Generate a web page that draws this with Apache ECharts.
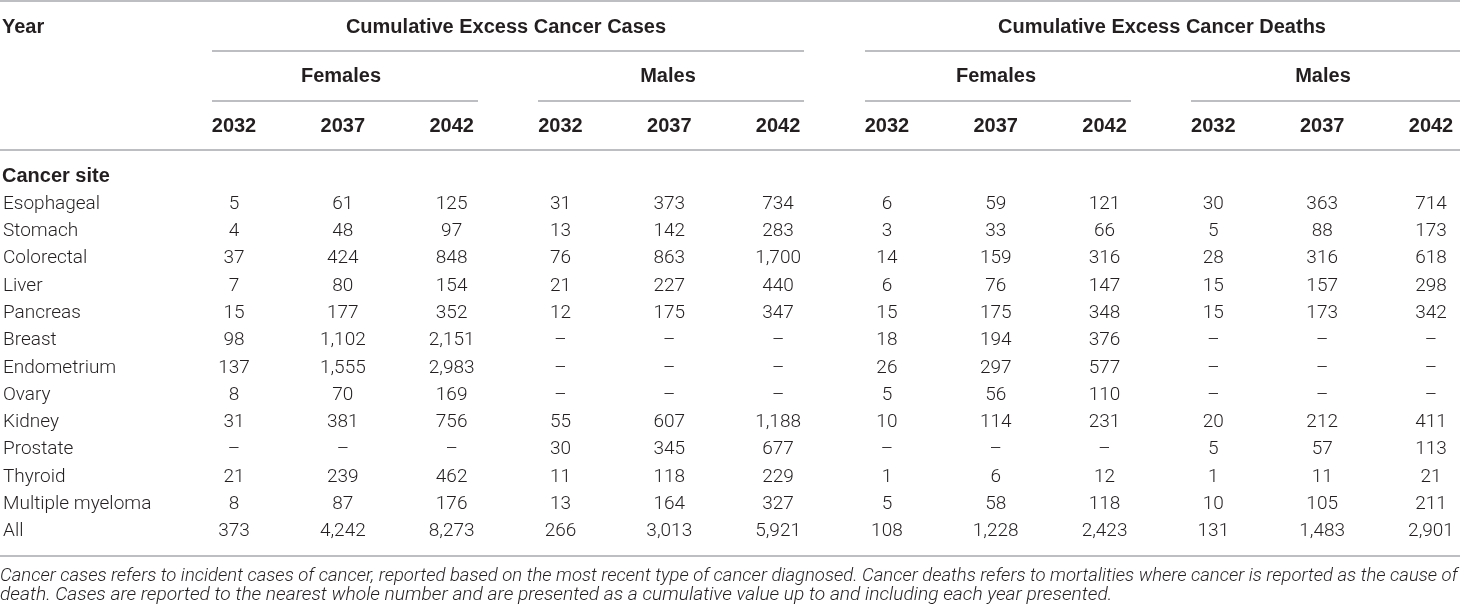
<!DOCTYPE html>
<html>
<head>
<meta charset="utf-8">
<script src="https://cdn.jsdelivr.net/npm/echarts@6/dist/echarts.min.js"></script>
<style>
  html, body { margin: 0; padding: 0; background: #fff; }
  #main { width: 1460px; height: 612px; }
</style>
</head>
<body>
<div id="main"></div>
<script>
// table values, rows follow `sites`, inner arrays are 2032 / 2037 / 2042
var sites = ['Esophageal', 'Stomach', 'Colorectal', 'Liver', 'Pancreas', 'Breast', 'Endometrium',
    'Ovary', 'Kidney', 'Prostate', 'Thyroid', 'Multiple myeloma', 'All'];
var years = ['2032', '2037', '2042'];

var casesFemales = [[5, 61, 125], [4, 48, 97], [37, 424, 848], [7, 80, 154], [15, 177, 352],
    [98, 1102, 2151], [137, 1555, 2983], [8, 70, 169], [31, 381, 756], [null, null, null],
    [21, 239, 462], [8, 87, 176], [373, 4242, 8273]];
var casesMales = [[31, 373, 734], [13, 142, 283], [76, 863, 1700], [21, 227, 440], [12, 175, 347],
    [null, null, null], [null, null, null], [null, null, null], [55, 607, 1188], [30, 345, 677],
    [11, 118, 229], [13, 164, 327], [266, 3013, 5921]];
var deathsFemales = [[6, 59, 121], [3, 33, 66], [14, 159, 316], [6, 76, 147], [15, 175, 348],
    [18, 194, 376], [26, 297, 577], [5, 56, 110], [10, 114, 231], [null, null, null],
    [1, 6, 12], [5, 58, 118], [108, 1228, 2423]];
var deathsMales = [[30, 363, 714], [5, 88, 173], [28, 316, 618], [15, 157, 298], [15, 173, 342],
    [null, null, null], [null, null, null], [null, null, null], [20, 212, 411], [5, 57, 113],
    [1, 11, 21], [10, 105, 211], [131, 1483, 2901]];

var footnote = [
    'Cancer cases refers to incident cases of cancer, reported based on the most recent type of cancer diagnosed. Cancer deaths refers to mortalities where cancer is reported as the cause of',
    'death. Cases are reported to the nearest whole number and are presented as a cumulative value up to and including each year presented.'
];

var BODY = '"Roboto", "Liberation Sans", sans-serif';
var HEAD = '"Liberation Sans", Arial, sans-serif';
var INK = '#231f20';
var RULE = '#a7a9ac';

var groups = [casesFemales, casesMales, deathsFemales, deathsMales];
var columns = [];
var cells = [];
groups.forEach(function (g, gi) {
    years.forEach(function (y, yi) {
        columns.push(y);
        g.forEach(function (row, ri) {
            cells.push([gi * 3 + yi, ri, row[yi]]);
        });
    });
});

function hline(x1, x2, y) {
    return {
        type: 'line',
        shape: { x1: x1, y1: y, x2: x2, y2: y },
        style: { stroke: RULE, lineWidth: 1.5 },
        silent: true
    };
}

function label(text, x, y, align) {
    return {
        type: 'text',
        x: x,
        y: y,
        style: {
            text: text,
            fill: INK,
            font: 'bold 20px ' + HEAD,
            align: align,
            verticalAlign: 'middle'
        },
        silent: true
    };
}

// first footnote line is justified in the source, so it gets a touch smaller font
function note(text, y, size) {
    return {
        type: 'text',
        x: 0,
        y: y,
        style: {
            text: text,
            fill: INK,
            font: 'italic 300 ' + size + 'px ' + BODY,
            align: 'left',
            verticalAlign: 'middle'
        },
        silent: true
    };
}

var chart = echarts.init(document.getElementById('main'), null, { renderer: 'canvas' });

var option = {
    animation: false,
    backgroundColor: '#fff',
    grid: { left: 233, top: 204, width: 1198, height: 327.6 },
    xAxis: {
        type: 'category',
        position: 'top',
        data: columns,
        boundaryGap: false,
        axisLine: { show: false },
        axisTick: { show: false },
        splitLine: { show: false },
        axisLabel: {
            interval: 0,
            margin: 68,
            color: INK,
            fontFamily: HEAD,
            fontWeight: 'bold',
            fontSize: 20
        }
    },
    yAxis: {
        type: 'category',
        data: sites,
        inverse: true,
        boundaryGap: false,
        axisLine: { show: false },
        axisTick: { show: false },
        splitLine: { show: false },
        axisLabel: {
            interval: 0,
            margin: 231,
            align: 'left',
            color: INK,
            fontFamily: BODY,
            fontWeight: 300,
            fontSize: 19
        }
    },
    series: [{
        type: 'custom',
        data: cells,
        renderItem: function (params, api) {
            var p = api.coord([api.value(0), api.value(1)]);
            var v = api.value(2);
            var txt = isNaN(v) ? '\u2013' : v.toLocaleString('en-US');
            return {
                type: 'text',
                x: p[0],
                y: p[1],
                style: {
                    text: txt,
                    fill: INK,
                    font: '300 19px ' + BODY,
                    align: 'center',
                    verticalAlign: 'middle'
                }
            };
        }
    }],
    graphic: [
        hline(0, 1460, 1),
        hline(212, 804, 51),
        hline(865, 1460, 51),
        hline(212, 478, 101),
        hline(538, 804, 101),
        hline(865, 1131, 101),
        hline(1191, 1460, 101),
        hline(0, 1460, 150),
        hline(0, 1460, 556),
        label('Year', 2, 27, 'left'),
        label('Cumulative Excess Cancer Cases', 506, 27, 'center'),
        label('Cumulative Excess Cancer Deaths', 1162, 27, 'center'),
        label('Females', 341, 76, 'center'),
        label('Males', 668, 76, 'center'),
        label('Females', 996, 76, 'center'),
        label('Males', 1323, 76, 'center'),
        label('Cancer site', 2, 176, 'left'),
        note(footnote[0], 576, 18.5),
        note(footnote[1], 595, 19.2)
    ]
};

chart.setOption(option);
</script>
</body>
</html>
